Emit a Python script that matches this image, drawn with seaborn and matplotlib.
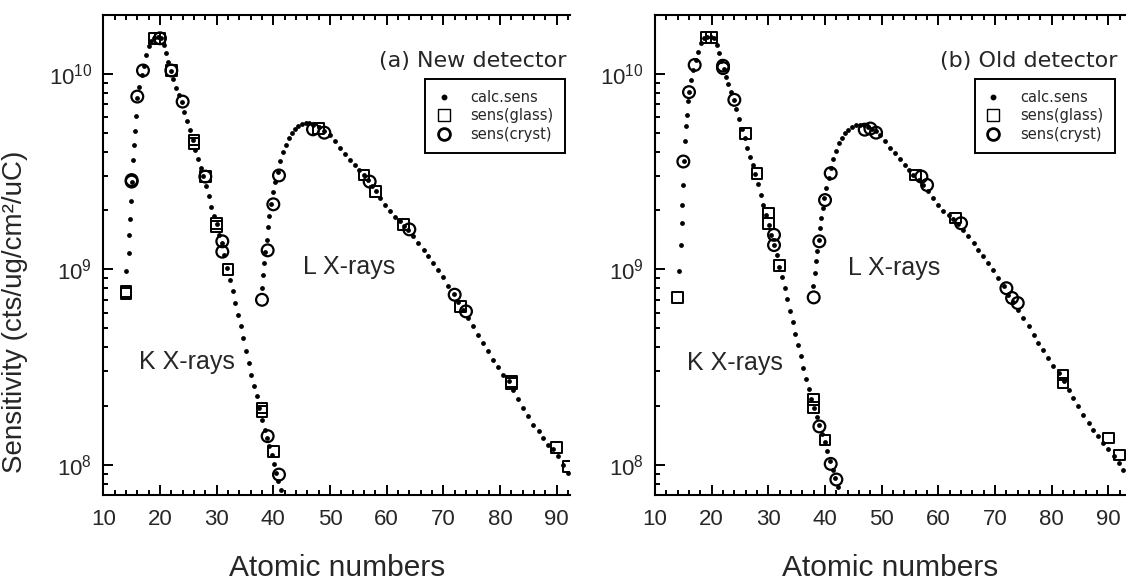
import numpy as np
import pandas as pd
import matplotlib
matplotlib.use("Agg")
import matplotlib.pyplot as plt
import seaborn as sns
from matplotlib.ticker import LogLocator, MultipleLocator, NullFormatter, LogFormatterSciNotation
from matplotlib.lines import Line2D

# ---------------- data ----------------
# calc.sens dots: atomic number and log10(sensitivity)
a_calc_k_z = [14.0, 14.47, 14.59, 14.71, 14.82, 15.0, 15.18, 15.35, 15.53, 15.76, 16.0, 16.35, 16.76, 17.12, 17.53,
              18.0, 18.47, 19.0, 19.6, 20.2, 20.65, 21.06, 21.47, 21.88, 22.35, 22.82, 23.3, 23.8, 24.3, 24.76,
              25.24, 25.76, 26.24, 26.7, 27.2, 27.65, 28.1, 28.6, 29.06, 29.5, 30.0, 30.47, 30.9, 31.35, 31.8,
              32.35, 32.8, 33.3, 33.76, 34.24, 34.7, 35.18, 35.65, 36.1, 36.6, 37.06, 37.5, 38.0, 38.47, 38.9,
              39.3, 39.7, 40.1, 40.5, 40.9, 41.35]
a_calc_k_log = [8.989, 9.083, 9.176, 9.258, 9.347, 9.449, 9.560, 9.637, 9.708, 9.782, 9.876, 9.935, 9.995, 10.038, 10.097,
                10.140, 10.169, 10.182, 10.186, 10.182, 10.148, 10.106, 10.060, 10.017, 9.974, 9.930, 9.893, 9.855, 9.804, 9.760,
                9.714, 9.662, 9.611, 9.565, 9.517, 9.475, 9.424, 9.373, 9.321, 9.275, 9.231, 9.176, 9.134, 9.074, 9.006,
                8.946, 8.887, 8.830, 8.767, 8.708, 8.648, 8.580, 8.520, 8.460, 8.401, 8.350, 8.290, 8.230, 8.179, 8.136,
                8.094, 8.051, 8.003, 7.957, 7.915, 7.872]
a_calc_l_z = [38.06, 38.24, 38.4, 38.6, 38.8, 39.06, 39.3, 39.6, 39.9, 40.3, 40.76, 41.24, 41.7, 42.2, 42.7,
              43.24, 43.8, 44.4, 45.06, 45.7, 46.35, 47.0, 48.0, 49.0,
              50.0, 50.9, 51.8, 52.6, 53.5, 54.4, 55.2, 56.0, 56.7, 57.4, 58.1, 58.8, 59.7, 60.6, 61.5,
              62.35, 63.06, 63.8, 64.7, 65.6, 66.5, 67.35, 68.2, 69.1, 70.0, 70.9, 71.8, 72.65, 73.5, 74.4,
              75.3, 76.2, 77.06, 77.9, 78.8, 79.7, 80.6, 81.5, 82.35, 83.2, 84.1, 85.0, 85.9, 86.8, 87.6,
              88.5, 89.4, 90.3, 91.2, 92.06]
a_calc_l_log = [8.904, 8.972, 9.032, 9.088, 9.151, 9.214, 9.275, 9.333, 9.395, 9.449, 9.500, 9.552, 9.598, 9.637, 9.671,
                9.697, 9.719, 9.732, 9.743, 9.748, 9.746, 9.739, 9.728, 9.710,
                9.688, 9.654, 9.620, 9.591, 9.560, 9.535, 9.509, 9.480, 9.458, 9.427, 9.398, 9.364, 9.330, 9.296, 9.267,
                9.245, 9.223, 9.199, 9.168, 9.134, 9.100, 9.066, 9.032, 8.997, 8.958, 8.916, 8.875, 8.835, 8.793, 8.750,
                8.708, 8.665, 8.622, 8.580, 8.537, 8.500, 8.460, 8.426, 8.384, 8.337, 8.290, 8.247, 8.205, 8.171, 8.136,
                8.102, 8.078, 8.043, 8.000, 7.957]

b_calc_k_z = [14.29, 14.53, 14.7, 14.82, 14.94, 15.06, 15.24, 15.41, 15.59, 15.82, 16.06, 16.41, 16.76, 17.18, 17.65,
              18.12, 18.65, 19.24, 19.82, 20.4, 20.88, 21.3, 21.7, 22.1, 22.5, 22.94, 23.4, 23.9, 24.35, 24.8,
              25.35, 25.8, 26.3, 26.76, 27.24, 27.7, 28.2, 28.65, 29.1, 29.6, 30.06, 30.5, 31.0, 31.5, 31.94,
              32.4, 32.9, 33.35, 33.8, 34.3, 34.76, 35.24, 35.7, 36.2, 36.65, 37.1, 37.6, 38.06, 38.5, 39.0,
              39.47, 39.94, 40.4, 40.9, 41.35, 41.8, 42.3]
b_calc_k_log = [8.989, 9.125, 9.236, 9.330, 9.432, 9.552, 9.654, 9.731, 9.790, 9.859, 9.906, 9.969, 10.020, 10.072, 10.114,
                10.157, 10.182, 10.191, 10.191, 10.182, 10.148, 10.106, 10.066, 10.026, 9.986, 9.947, 9.906, 9.867, 9.819, 9.770,
                9.719, 9.671, 9.623, 9.577, 9.531, 9.487, 9.436, 9.381, 9.330, 9.279, 9.228, 9.176, 9.125, 9.071, 9.014,
                8.958, 8.904, 8.847, 8.788, 8.730, 8.670, 8.614, 8.554, 8.494, 8.440, 8.389, 8.338, 8.290, 8.242, 8.201,
                8.159, 8.114, 8.068, 8.020, 7.974, 7.932, 7.884]
b_calc_l_z = [37.94, 38.18, 38.4, 38.65, 38.88, 39.1, 39.35, 39.6, 39.88, 40.24, 40.65, 41.06, 41.47, 41.94, 42.4,
              42.94, 43.5, 44.1, 44.76, 45.47, 46.2, 46.9, 47.6, 48.3, 49.0,
              49.7, 50.6, 51.5, 52.35, 53.2, 54.1, 54.9, 55.6, 56.5, 57.35, 58.2, 59.1, 60.0, 60.9, 61.8,
              62.6, 63.5, 64.4, 65.3, 66.2, 67.05, 67.9, 68.8, 69.7, 70.6, 71.5, 72.35, 73.2, 74.1, 75.0,
              75.9, 76.8, 77.65, 78.5, 79.4, 80.3, 81.2, 82.1, 83.0, 83.8, 84.7, 85.6, 86.5, 87.35, 88.2,
              89.1, 90.0, 90.9, 91.8, 92.6]
b_calc_l_log = [8.912, 8.980, 9.040, 9.095, 9.151, 9.211, 9.262, 9.313, 9.364, 9.415, 9.466, 9.517, 9.565, 9.606, 9.645,
                9.674, 9.697, 9.714, 9.726, 9.736, 9.739, 9.736, 9.729, 9.719, 9.705,
                9.688, 9.654, 9.620, 9.594, 9.564, 9.535, 9.509, 9.483, 9.458, 9.432, 9.398, 9.364, 9.330, 9.299, 9.279,
                9.257, 9.233, 9.202, 9.168, 9.134, 9.100, 9.066, 9.032, 8.997, 8.955, 8.912, 8.870, 8.835, 8.793, 8.750,
                8.708, 8.665, 8.623, 8.585, 8.546, 8.504, 8.469, 8.426, 8.384, 8.342, 8.298, 8.255, 8.213, 8.179, 8.145,
                8.110, 8.078, 8.044, 8.010, 7.974]

# measured sensitivities (cts/ug/cm2/uC)
a_glass_z = [14, 14, 19, 20, 22, 26, 26, 28, 30, 30, 32, 38, 38, 40, 48, 56, 58, 63, 73, 82, 82, 90, 92]
a_glass_s = [7.67e8, 7.5e8, 1.52e10, 1.52e10, 1.04e10, 4.59e9, 4.42e9, 2.99e9, 1.72e9, 1.66e9, 1.0e9, 1.95e8, 1.88e8,
             1.17e8, 5.27e9, 3.04e9, 2.5e9, 1.69e9, 6.45e8, 2.67e8, 2.6e8, 1.22e8, 9.8e7]
a_cryst_z = [15, 15, 16, 17, 20, 22, 24, 28, 31, 31, 39, 41, 38, 39, 40, 41, 47, 49, 57, 64, 72, 74]
a_cryst_s = [2.81e9, 2.86e9, 7.65e9, 1.04e10, 1.52e10, 1.04e10, 7.21e9, 2.98e9, 1.39e9, 1.23e9, 1.40e8, 8.9e7,
             6.98e8, 1.25e9, 2.15e9, 3.02e9, 5.2e9, 5.0e9, 2.81e9, 1.60e9, 7.41e8, 6.09e8]

b_glass_z = [14, 19, 20, 26, 28, 30, 30, 32, 38, 38, 40, 56, 63, 82, 82, 90, 92]
b_glass_s = [7.2e8, 1.54e10, 1.54e10, 4.97e9, 3.1e9, 1.94e9, 1.72e9, 1.05e9, 2.15e8, 1.97e8, 1.34e8,
             3.04e9, 1.83e9, 2.88e8, 2.62e8, 1.37e8, 1.12e8]
b_cryst_z = [15, 16, 17, 22, 22, 24, 31, 31, 39, 41, 42, 38, 39, 40, 41, 47, 48, 49, 57, 58, 64, 72, 73, 74]
b_cryst_s = [3.56e9, 8.06e9, 1.11e10, 1.07e10, 1.1e10, 7.36e9, 1.5e9, 1.33e9, 1.57e8, 1.01e8, 8.4e7,
             7.18e8, 1.39e9, 2.26e9, 3.1e9, 5.18e9, 5.25e9, 5.0e9, 2.98e9, 2.7e9, 1.72e9, 8.0e8, 7.13e8, 6.72e8]

panel_titles = ["(a) New detector", "(b) Old detector"]
legend_labels = ["calc.sens", "sens(glass)", "sens(cryst)"]
x_label = "Atomic numbers"
y_label = "Sensitivity (cts/ug/cm²/uC)"

# ---------------- style ----------------
sns.set_style("ticks")
plt.rcParams["font.family"] = ["Liberation Sans", "DejaVu Sans"]
plt.rcParams["axes.linewidth"] = 1.5
plt.rcParams["axes.edgecolor"] = "black"

W, H = 1126, 580
fig = plt.figure(figsize=(W / 100, H / 100), dpi=100)


def px_axes(x0, x1, ytop, ybot):
    return fig.add_axes([x0 / W, 1 - ybot / H, (x1 - x0) / W, (ybot - ytop) / H])


ax_a = px_axes(103.3, 570, 15, 495)
ax_b = px_axes(655, 1126, 15, 495)

panels = [
    (ax_a, a_calc_k_z, a_calc_k_log, a_calc_l_z, a_calc_l_log, a_glass_z, a_glass_s, a_cryst_z, a_cryst_s,
     92.35, (0.180, 0.277), (0.526, 0.474), 0.993, 0.689),
    (ax_b, b_calc_k_z, b_calc_k_log, b_calc_l_z, b_calc_l_log, b_glass_z, b_glass_s, b_cryst_z, b_cryst_s,
     93.1, (0.170, 0.275), (0.507, 0.473), 0.983, 0.679),
]

for i, (ax, ckz, ckl, clz, cll, gz, gs, cz, cs, xmax, kpos, lpos, tx, legx) in enumerate(panels):
    calc = pd.DataFrame({"Z": list(ckz) + list(clz),
                         "S": 10 ** np.array(list(ckl) + list(cll))})
    glass = pd.DataFrame({"Z": gz, "S": gs})
    cryst = pd.DataFrame({"Z": cz, "S": cs})

    sns.scatterplot(data=calc, x="Z", y="S", ax=ax, color="black", s=12, linewidth=0, legend=False, zorder=3)
    sns.scatterplot(data=glass, x="Z", y="S", ax=ax, marker="s", s=60, color="none",
                    edgecolor="black", linewidth=1.4, legend=False, zorder=4)
    sns.scatterplot(data=cryst, x="Z", y="S", ax=ax, marker="o", s=72, color="none",
                    edgecolor="black", linewidth=1.6, legend=False, zorder=4)

    ax.set_yscale("log")
    ax.set_xlim(10, xmax)
    ax.set_ylim(7.0e7, 2.0e10)
    ax.xaxis.set_major_locator(MultipleLocator(10))
    ax.xaxis.set_minor_locator(MultipleLocator(2))
    ax.yaxis.set_major_locator(LogLocator(base=10))
    ax.yaxis.set_minor_locator(LogLocator(base=10, subs=np.arange(2, 10)))
    ax.yaxis.set_major_formatter(LogFormatterSciNotation())
    ax.yaxis.set_minor_formatter(NullFormatter())
    ax.spines["right"].set_visible(False)
    ax.tick_params(which="both", direction="in", top=True, right=False, color="black", width=1.4)
    ax.tick_params(which="major", length=7.5)
    ax.tick_params(which="minor", length=3.8)
    ax.tick_params(axis="x", which="major", labelsize=16, pad=10)
    ax.tick_params(axis="y", which="major", labelsize=16, pad=8)

    ax.set_xlabel(x_label, fontsize=21.5)
    ax.xaxis.set_label_coords(0.5, -0.122)
    ax.set_ylabel("")

    ax.text(tx, 0.904, panel_titles[i], transform=ax.transAxes, ha="right", va="center", fontsize=16,
            family=["DejaVu Sans"])
    ax.text(kpos[0], kpos[1], "K X-rays", transform=ax.transAxes, ha="center", va="center", fontsize=18)
    ax.text(lpos[0], lpos[1], "L X-rays", transform=ax.transAxes, ha="center", va="center", fontsize=18)

    handles = [
        Line2D([], [], marker="o", ls="none", color="black", markersize=3.2),
        Line2D([], [], marker="s", ls="none", mfc="none", mec="black", markersize=8.5, mew=1.0),
        Line2D([], [], marker="o", ls="none", mfc="none", mec="black", markersize=8.5, mew=2.0),
    ]
    leg = ax.legend(handles, legend_labels, loc="upper left", bbox_to_anchor=(legx, 0.867),
                    frameon=True, fancybox=False, framealpha=1, edgecolor="black",
                    prop={"family": "DejaVu Sans", "size": 10.5}, handlelength=1.0, handletextpad=1.35,
                    labelspacing=0.22, borderpad=0.78, borderaxespad=0)
    leg.get_frame().set_linewidth(1.4)

fig.text(15 / W, 1 - 312 / H, y_label, rotation=90, ha="center", va="center", fontsize=20)

fig.savefig("out.png", dpi=100)
